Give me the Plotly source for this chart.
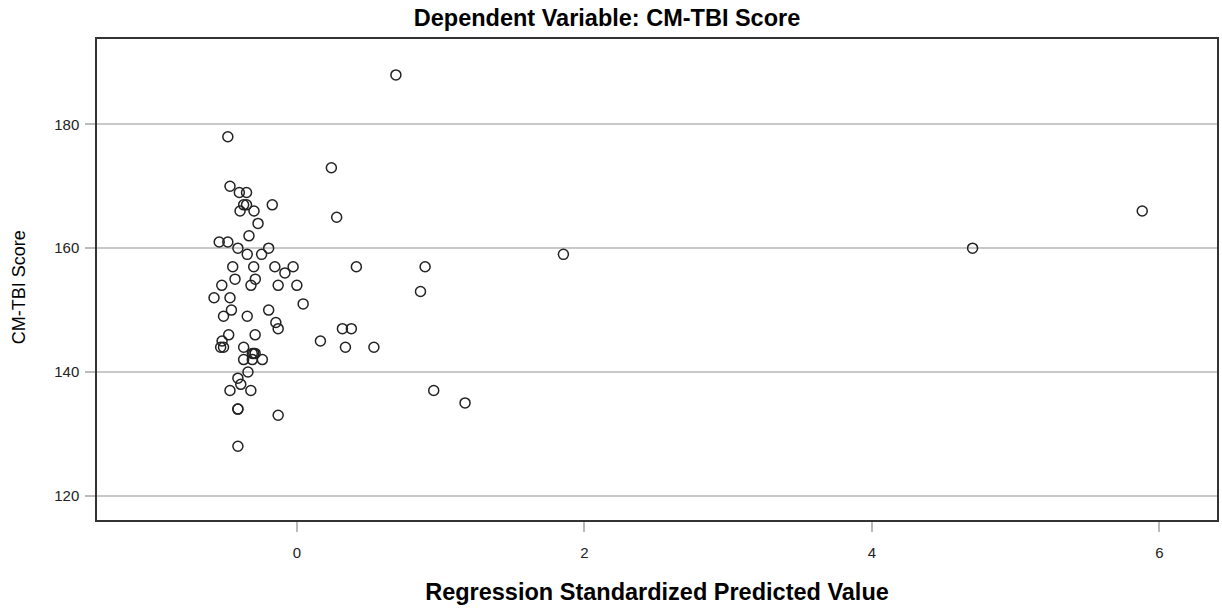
import plotly.graph_objects as go

# Regression standardized predicted value (x) and CM-TBI score (y)
pred_value = [
    0.689, 0.24, 0.277, 1.854, -0.026, -0.083, 0.414, 0.892, -0.13, 0.0,
    0.86, 0.044, -0.13, 0.317, 0.379, 0.164, 0.338, 0.536, 0.952, 1.17,
    -0.13, 4.70, 5.88,
    -0.48, -0.465, -0.40, -0.35, -0.37, -0.35, -0.395, -0.298, -0.171, -0.27,
    -0.333, -0.54, -0.48, -0.41, -0.196, -0.345, -0.245, -0.446, -0.30, -0.153,
    -0.43, -0.289, -0.319, -0.522, -0.576, -0.465, -0.455, -0.196, -0.51, -0.345,
    -0.146, -0.474, -0.29, -0.52, -0.53, -0.51, -0.37, -0.31, -0.29, -0.30,
    -0.37, -0.31, -0.24, -0.34, -0.41, -0.39, -0.465, -0.32, -0.41, -0.41,
    -0.41,
]
cm_tbi_score = [
    188, 173, 165, 159, 157, 156, 157, 157, 154, 154,
    153, 151, 147, 147, 147, 145, 144, 144, 137, 135,
    133, 160, 166,
    178, 170, 169, 169, 167, 167, 166, 166, 167, 164,
    162, 161, 161, 160, 160, 159, 159, 157, 157, 157,
    155, 155, 154, 154, 152, 152, 150, 150, 149, 149,
    148, 146, 146, 145, 144, 144, 144, 143, 143, 143,
    142, 142, 142, 140, 139, 138, 137, 137, 134, 134,
    128,
]

x_ticks = [0, 2, 4, 6]
y_ticks = [120, 140, 160, 180]

FONT = "Liberation Sans, Arial, sans-serif"

fig = go.Figure()
fig.add_trace(go.Scatter(
    x=pred_value, y=cm_tbi_score, mode="markers",
    marker=dict(symbol="circle-open", size=10, color="#222222",
                line=dict(width=1.5, color="#222222")),
    hoverinfo="x+y", showlegend=False,
))

fig.update_layout(
    width=1222, height=609,
    paper_bgcolor="white", plot_bgcolor="white",
    margin=dict(l=97, r=3, t=39, b=89),
    font=dict(family=FONT, color="#000000"),
    title=dict(text="<b>Dependent Variable: CM-TBI Score</b>",
               x=607 / 1222, xref="container", xanchor="center",
               y=1 - 18 / 609, yanchor="middle", yref="container",
               font=dict(size=23.5, family=FONT, color="#000000")),
    annotations=[dict(
        text="CM-TBI Score", textangle=-90, showarrow=False,
        xref="paper", yref="paper",
        x=(19 - 97) / (1219 - 97), y=(520 - 287) / (520 - 39),
        xanchor="center", yanchor="middle",
        font=dict(size=18, family=FONT, color="#000000"),
    )],
)

fig.update_xaxes(
    range=[-1.39, 6.40], tickvals=x_ticks, ticktext=[str(v) for v in x_ticks],
    showgrid=False, zeroline=False,
    showline=True, linecolor="#333333", linewidth=1.5, mirror=True,
    ticks="outside", ticklen=10, tickcolor="#bbbbbb", tickwidth=1.5,
    ticklabelstandoff=8,
    tickfont=dict(size=15, family=FONT, color="#222222"),
    title=dict(text="<b>Regression Standardized Predicted Value</b>",
               font=dict(size=23.5, family=FONT, color="#000000"), standoff=24),
)
fig.update_yaxes(
    range=[116.08, 193.8], tickvals=y_ticks, ticktext=[str(v) for v in y_ticks],
    showgrid=True, gridcolor="#c8c8c8", gridwidth=1.5, zeroline=False,
    showline=True, linecolor="#333333", linewidth=1.5, mirror=True,
    ticks="outside", ticklen=10, tickcolor="#bbbbbb", tickwidth=1.5,
    ticklabelstandoff=3,
    tickfont=dict(size=15, family=FONT, color="#222222"),
)

fig.write_html("out.html")
